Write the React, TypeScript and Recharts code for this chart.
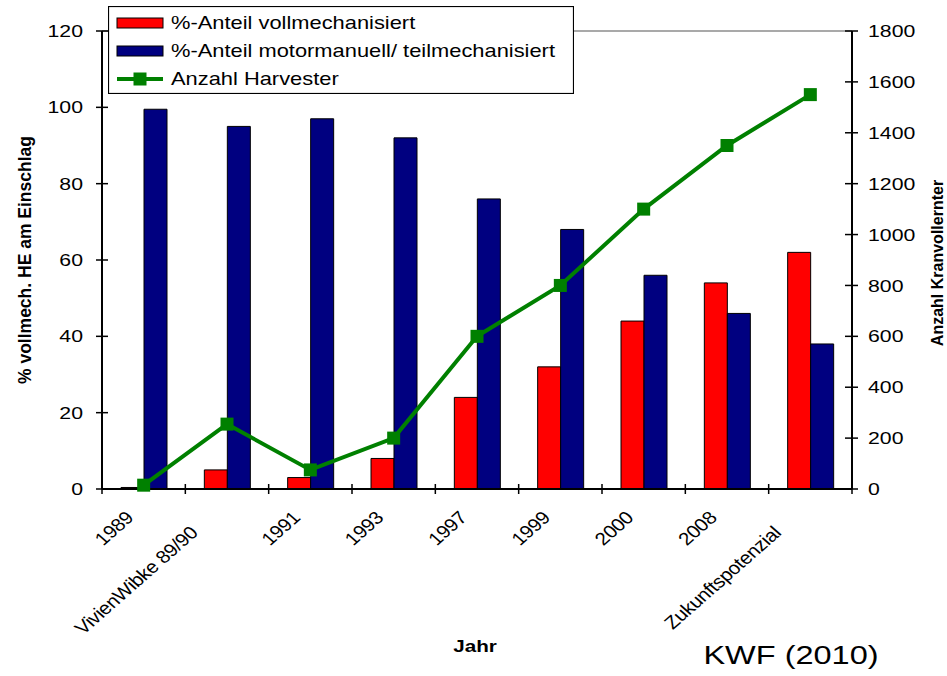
import { ComposedChart, Bar, Line, XAxis, YAxis, Legend, ReferenceLine } from 'recharts';

// categories along the x axis
const categories = [
  '1989',
  'VivienWibke 89/90',
  '1991',
  '1993',
  '1997',
  '1999',
  '2000',
  '2008',
  'Zukunftspotenzial',
];

// % share of the harvest, left axis
const vollmechanisiert = [0.4, 5, 3, 8, 24, 32, 44, 54, 62];
const motormanuell = [99.5, 95, 97, 92, 76, 68, 56, 46, 38];

// number of harvesters, right axis
const anzahlHarvester = [15, 255, 75, 200, 600, 800, 1100, 1350, 1550];

const pctTicks = [0, 20, 40, 60, 80, 100, 120];
const countTicks = [0, 200, 400, 600, 800, 1000, 1200, 1400, 1600, 1800];

const data = categories.map((jahr, i) => ({
  jahr,
  voll: vollmechanisiert[i],
  motor: motormanuell[i],
  harvester: anzahlHarvester[i],
}));

const FONT = '"Liberation Sans", Arial, Helvetica, sans-serif';
const SX = 1.25; // glyphs are drawn a bit wide
const W = 947;
const H = 676;
const PLOT_LEFT = 102;
const PLOT_RIGHT = 852;
const BAND = (PLOT_RIGHT - PLOT_LEFT) / categories.length;
const RED = '#ff0000';
const NAVY = '#000080';
const GREEN = '#008000';

// long labels sit one step further down the slope
const pushedDown = new Set([1, 8]);

function XTick(props: any) {
  const { x, y, payload, index } = props;
  const half = BAND / 2;
  const shift = pushedDown.has(index);
  const ax = x - 9 - (shift ? 19 : 0);
  const ay = y + 30 + (shift ? 15 : 0);
  return (
    <g>
      <line x1={x - half} x2={x - half} y1={y - 5} y2={y + 5} stroke="#000" strokeWidth={1.5} />
      {index === categories.length - 1 && (
        <line x1={x + half} x2={x + half} y1={y - 5} y2={y + 5} stroke="#000" strokeWidth={1.5} />
      )}
      <text
        transform={`translate(${ax},${ay}) scale(1.14,1) rotate(-45)`}
        textAnchor="end"
        fontSize={18}
        letterSpacing={-0.3}
        fontFamily={FONT}
        fill="#000"
      >
        {payload.value}
      </text>
    </g>
  );
}

function LeftTick(props: any) {
  const { x, y, payload } = props;
  return (
    <g>
      <line x1={x - 6} x2={x + 6} y1={y} y2={y} stroke="#000" strokeWidth={1.5} />
      <text
        transform={`translate(${x - 19},${y}) scale(${SX},1)`}
        textAnchor="end"
        dy="0.36em"
        fontSize={17}
        fontFamily={FONT}
        fill="#000"
      >
        {payload.value}
      </text>
    </g>
  );
}

function RightTick(props: any) {
  const { x, y, payload } = props;
  return (
    <g>
      <line x1={x - 7} x2={x + 6} y1={y} y2={y} stroke="#000" strokeWidth={1.5} />
      <text
        transform={`translate(${x + 16},${y}) scale(${SX},1)`}
        textAnchor="start"
        dy="0.36em"
        fontSize={17}
        fontFamily={FONT}
        fill="#000"
      >
        {payload.value}
      </text>
    </g>
  );
}

function SquareDot(props: any) {
  const { cx, cy, index } = props;
  return <rect key={`sq-${index}`} x={cx - 6.5} y={cy - 6.5} width={13} height={13} fill={GREEN} />;
}

const legendRows = [
  { label: '%-Anteil vollmechanisiert', kind: 'bar', color: RED },
  { label: '%-Anteil motormanuell/ teilmechanisiert', kind: 'bar', color: NAVY },
  { label: 'Anzahl Harvester', kind: 'line', color: GREEN },
];

function LegendBox() {
  return (
    <svg width={466} height={88} style={{ display: 'block' }}>
      <rect x={0.5} y={0.5} width={465} height={87} fill="#fff" stroke="#000" strokeWidth={1.2} />
      {legendRows.map((row, i) => {
        const cy = 17 + i * 28;
        return (
          <g key={row.label}>
            {row.kind === 'bar' ? (
              <rect x={9} y={cy - 5} width={46} height={10} fill={row.color} stroke="#000" strokeWidth={1} />
            ) : (
              <g>
                <line x1={9} x2={55} y1={cy} y2={cy} stroke={row.color} strokeWidth={4} />
                <rect x={25.5} y={cy - 6.5} width={13} height={13} fill={row.color} />
              </g>
            )}
            <text
              transform={`translate(63,${cy}) scale(${SX},1)`}
              dy="0.36em"
              fontSize={17.5}
              fontFamily={FONT}
              fill="#000"
            >
              {row.label}
            </text>
          </g>
        );
      })}
    </svg>
  );
}

export default function App() {
  return (
    <div style={{ position: 'absolute', left: 0, top: 0, width: W, height: H, background: '#fff' }}>
      <ComposedChart
        width={W}
        height={H}
        data={data}
        margin={{ top: 31, right: 15, bottom: 0, left: 40 }}
        barGap={0}
        barSize={23}
      >
        <XAxis
          dataKey="jahr"
          height={187}
          interval={0}
          tickSize={0}
          tickMargin={0}
          tickLine={false}
          axisLine={{ stroke: '#000', strokeWidth: 2 }}
          tick={(p: any) => <XTick {...p} />}
        />
        <YAxis
          yAxisId="pct"
          orientation="left"
          domain={[0, 120]}
          ticks={pctTicks}
          interval={0}
          width={62}
          tickSize={0}
          tickMargin={0}
          tickLine={false}
          axisLine={{ stroke: '#000', strokeWidth: 2 }}
          tick={(p: any) => <LeftTick {...p} />}
        />
        <YAxis
          yAxisId="count"
          orientation="right"
          domain={[0, 1800]}
          ticks={countTicks}
          interval={0}
          width={80}
          tickSize={0}
          tickMargin={0}
          tickLine={false}
          axisLine={{ stroke: '#000', strokeWidth: 2 }}
          tick={(p: any) => <RightTick {...p} />}
        />
        <ReferenceLine yAxisId="pct" y={120} stroke="#8c8c8c" strokeWidth={1.5} />
        <Bar
          yAxisId="pct"
          dataKey="voll"
          name="%-Anteil vollmechanisiert"
          fill={RED}
          stroke="#000"
          strokeWidth={1}
          isAnimationActive={false}
        />
        <Bar
          yAxisId="pct"
          dataKey="motor"
          name="%-Anteil motormanuell/ teilmechanisiert"
          fill={NAVY}
          stroke="#000"
          strokeWidth={1}
          isAnimationActive={false}
        />
        <Line
          yAxisId="count"
          dataKey="harvester"
          name="Anzahl Harvester"
          type="linear"
          stroke={GREEN}
          strokeWidth={4}
          dot={SquareDot}
          activeDot={false}
          isAnimationActive={false}
        />
        <Legend
          layout="vertical"
          align="center"
          verticalAlign="middle"
          content={() => <LegendBox />}
          wrapperStyle={{ position: 'absolute', left: 108, top: 6, width: 466, height: 88, margin: 0 }}
        />
      </ComposedChart>
      <svg
        width={W}
        height={H}
        style={{ position: 'absolute', left: 0, top: 0, pointerEvents: 'none' }}
      >
        <text
          transform="translate(31,260) rotate(-90)"
          textAnchor="middle"
          fontSize={17.5}
          fontWeight="bold"
          fontFamily={FONT}
          fill="#000"
        >
          % vollmech. HE am Einschlag
        </text>
        <text
          transform="translate(943,263) rotate(-90)"
          textAnchor="middle"
          fontSize={16}
          fontWeight="bold"
          fontFamily={FONT}
          fill="#000"
        >
          Anzahl Kranvollernter
        </text>
        <text
          transform={`translate(475,652) scale(${SX},1)`}
          textAnchor="middle"
          fontSize={16.5}
          fontWeight="bold"
          fontFamily={FONT}
          fill="#000"
        >
          Jahr
        </text>
        <text
          transform={`translate(791,664) scale(${SX},1)`}
          textAnchor="middle"
          fontSize={26}
          fontFamily={FONT}
          fill="#000"
        >
          KWF (2010)
        </text>
      </svg>
    </div>
  );
}
